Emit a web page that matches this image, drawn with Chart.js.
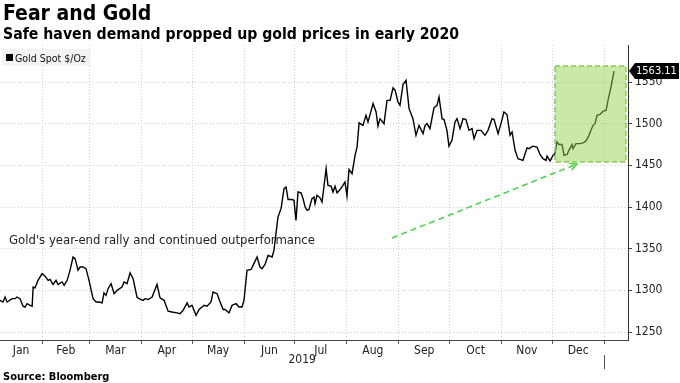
<!DOCTYPE html>
<html><head><meta charset="utf-8">
<script src="https://cdn.jsdelivr.net/npm/chart.js@4"></script>
<style>
html,body{margin:0;padding:0;background:#fff;}
#wrap{position:relative;width:680px;height:383px;overflow:hidden;font-family:"DejaVu Sans Condensed","DejaVu Sans",sans-serif;}
#c{position:absolute;left:0;top:0;}
.t{position:absolute;white-space:nowrap;color:#000;line-height:1;}
#legend{position:absolute;left:2px;top:49px;width:89px;height:17px;background:#f3f3f3;font-size:10.5px;color:#111;}
#legend span.sw{position:absolute;left:4px;top:5px;width:7px;height:7px;background:#000;}
#legend span.lb{position:absolute;left:13px;top:3px;}
</style></head><body>
<div id="wrap">
<canvas id="c" width="680" height="383"></canvas>
<div class="t" style="left:3px;top:3px;font-size:21px;font-weight:bold;">Fear and Gold</div>
<div class="t" style="left:3px;top:26px;font-size:15.7px;font-weight:bold;">Safe haven demand propped up gold prices in early 2020</div>
<div id="legend"><span class="sw"></span><span class="lb">Gold Spot $/Oz</span></div>
<div class="t" style="left:9px;top:233px;font-size:13px;color:#222;">Gold's year-end rally and continued outperformance</div>
<div class="t" style="left:3px;top:371px;font-size:11px;font-weight:bold;">Source: Bloomberg</div>
</div>
<script>
// ---- data (x = day of 2019, 0 = Jan 1) ----
const days = [5.9,7.7,8.9,10.1,13.1,14.9,16.0,17.8,19.6,20.8,
22.0,23.8,25.0,25.6,26.7,28.5,30.9,32.7,34.5,35.7,
37.4,39.2,40.4,42.8,44.0,45.8,47.5,49.3,50.5,52.3,
53.5,55.3,57.0,58.8,61.2,63.0,64.8,66.6,67.7,68.9,
70.1,71.9,73.7,75.5,78.4,79.6,81.4,83.2,85.0,87.3,
88.5,90.9,92.1,93.9,96.3,99.2,101.0,103.4,105.8,108.1,
111.1,112.9,114.7,117.1,118.2,120.0,122.4,124.2,127.2,128.9,
131.3,132.5,134.9,136.7,138.5,139.6,142.0,143.8,146.2,148.0,
149.7,150.9,152.7,155.1,156.3,158.7,160.4,161.6,163.4,165.2,
167.6,168.7,171.1,172.9,174.7,175.9,177.1,179.4,180.6,181.8,
183.0,184.8,186.0,187.2,188.4,189.5,191.3,192.5,193.1,194.3,
196.1,197.3,199.7,200.8,202.6,203.8,205.0,206.2,208.0,209.7,
210.9,212.1,213.3,215.1,216.9,218.1,219.3,221.6,223.4,224.6,
227.6,229.4,230.5,231.7,234.1,235.9,237.7,239.5,240.7,242.4,
243.6,245.4,247.2,249.0,251.3,253.1,254.9,257.3,258.5,259.7,
261.4,263.8,265.6,266.8,268.6,269.8,271.5,272.7,274.5,276.3,
277.5,279.3,281.1,282.8,284.6,286.4,287.6,289.4,291.8,294.1,
295.9,298.3,299.5,301.9,303.6,305.4,307.2,309.0,310.2,312.0,
313.7,316.7,319.1,320.3,322.6,325.0,326.8,328.6,330.4,331.0,
332.8,334.5,335.7,336.9,338.1,339.9,341.1,342.9,344.0,345.8,
346.4,348.2,350.6,352.4,354.1,355.9,358.3,359.5,360.7,362.5,
364.3,366.1,367.2,369.0,370.8];
const prices = [1288,1286,1292,1286,1290,1290,1292,1290,1281,1280,
1284,1282,1281,1304,1303,1312,1320,1317,1312,1313,
1307,1312,1307,1310,1306,1312,1324,1340,1338,1324,
1328,1328,1326,1312,1290,1286,1286,1285,1297,1294,
1302,1308,1296,1300,1304,1310,1308,1321,1314,1292,
1290,1288,1290,1289,1292,1307,1291,1288,1275,1274,
1273,1272,1276,1285,1280,1282,1270,1277,1282,1281,
1286,1298,1296,1286,1277,1277,1273,1282,1284,1280,
1280,1288,1324,1325,1330,1340,1328,1326,1331,1342,
1340,1348,1388,1398,1422,1424,1409,1409,1408,1384,
1418,1417,1410,1400,1396,1397,1410,1412,1404,1414,
1411,1406,1446,1426,1425,1418,1425,1417,1421,1426,
1430,1413,1445,1440,1462,1472,1501,1498,1510,1502,
1524,1514,1497,1506,1500,1528,1528,1543,1540,1526,
1522,1547,1552,1518,1506,1486,1498,1488,1498,1500,
1494,1519,1522,1532,1506,1505,1492,1473,1480,1502,
1506,1494,1506,1505,1492,1494,1482,1492,1492,1486,
1492,1506,1505,1488,1500,1514,1511,1486,1490,1468,
1458,1456,1471,1470,1473,1472,1463,1458,1456,1461,
1455,1462,1464,1478,1475,1475,1462,1463,1468,1475,
1470,1476,1476,1477,1479,1486,1498,1500,1510,1511,
1515,1516,1528,1544,1563.11];
const monthLabels = ['Jan','Feb','Mar','Apr','May','Jun','Jul','Aug','Sep','Oct','Nov','Dec'];
const monthStarts = [0,31,59,90,120,151,181,212,243,273,304,334,365];
const yearLabel = '2019';
const yTicks = [1250,1300,1350,1400,1450,1500,1550];
const X_MIN = 5.9, X_MAX = 379.1;
const Y_MIN = 1240.4, Y_MAX = 1594.4;
// highlight box and arrow (in data units)
const boxX = [335.7, 377.9], boxY = [1454, 1569.2];
const arrowFrom = [238.9, 1362.8], arrowTo = [348.8, 1451.6];

const FONT = '"DejaVu Sans Condensed","DejaVu Sans",sans-serif';

// x ticks: month boundaries (grid/tick marks) + month label positions
const xTickList = [];
for (let i = 1; i < monthStarts.length; i++) xTickList.push({value: monthStarts[i], kind: 'b'});
for (let i = 0; i < 12; i++) {
  const a = Math.max(monthStarts[i], X_MIN), b = Math.min(monthStarts[i+1], X_MAX);
  xTickList.push({value: (a + b) / 2, kind: 'm', label: monthLabels[i]});
}
xTickList.sort((p, q) => p.value - q.value);

const overlay = {
  id: 'overlay',
  afterDatasetsDraw(chart) {
    const {ctx, scales: {x, y}} = chart;
    ctx.save();
    const l = x.getPixelForValue(boxX[0]), r = x.getPixelForValue(boxX[1]);
    const t = y.getPixelForValue(boxY[1]), b = y.getPixelForValue(boxY[0]);
    ctx.fillStyle = 'rgba(150,210,80,0.5)';
    ctx.fillRect(l, t, r - l, b - t);
    ctx.setLineDash([5, 3]);
    ctx.strokeStyle = '#8cc850';
    ctx.lineWidth = 1.5;
    ctx.strokeRect(l, t, r - l, b - t);
    // arrow
    const x1 = x.getPixelForValue(arrowFrom[0]), y1 = y.getPixelForValue(arrowFrom[1]);
    const x2 = x.getPixelForValue(arrowTo[0]), y2 = y.getPixelForValue(arrowTo[1]);
    ctx.strokeStyle = '#4fd24f';
    ctx.lineWidth = 1.6;
    ctx.setLineDash([6, 4]);
    ctx.beginPath(); ctx.moveTo(x1, y1); ctx.lineTo(x2, y2); ctx.stroke();
    ctx.setLineDash([]);
    const ang = Math.atan2(y2 - y1, x2 - x1);
    const hl = 8;
    ctx.beginPath();
    ctx.moveTo(x2 - hl * Math.cos(ang - 0.45), y2 - hl * Math.sin(ang - 0.45));
    ctx.lineTo(x2, y2);
    ctx.lineTo(x2 - hl * Math.cos(ang + 0.45), y2 - hl * Math.sin(ang + 0.45));
    ctx.stroke();
    ctx.restore();
  },
  afterDraw(chart) {
    const {ctx, scales: {x, y}, chartArea} = chart;
    ctx.save();
    // year label
    ctx.fillStyle = '#222';
    ctx.font = '12px ' + FONT;
    ctx.textAlign = 'center'; ctx.textBaseline = 'middle';
    const ya = Math.max(0, X_MIN), yb = Math.min(365, X_MAX);
    ctx.fillText(yearLabel, x.getPixelForValue((ya + yb) / 2), chartArea.bottom + 20);
    // year separator
    const sx = Math.round(x.getPixelForValue(365)) + 0.5;
    ctx.strokeStyle = '#555'; ctx.lineWidth = 1;
    ctx.beginPath(); ctx.moveTo(sx, chartArea.bottom + 15); ctx.lineTo(sx, chartArea.bottom + 29); ctx.stroke();
    // last value tag
    const last = prices[prices.length - 1];
    const ly = y.getPixelForValue(last);
    const ax = chartArea.right + 1;
    ctx.fillStyle = '#000';
    ctx.beginPath();
    ctx.moveTo(ax, ly);
    ctx.lineTo(ax + 6, ly - 8);
    ctx.lineTo(679, ly - 8);
    ctx.lineTo(679, ly + 8);
    ctx.lineTo(ax + 6, ly + 8);
    ctx.closePath(); ctx.fill();
    ctx.fillStyle = '#fff';
    ctx.textAlign = 'left';
    ctx.font = '11px ' + FONT;
    ctx.fillText(last.toFixed(2), ax + 7, ly + 0.5);
    ctx.restore();
  }
};

new Chart(document.getElementById('c'), {
  type: 'line',
  data: {datasets: [{
    data: days.map((d, i) => ({x: d, y: prices[i]})),
    borderColor: '#000', borderWidth: 1.4, pointRadius: 0, tension: 0, fill: false
  }]},
  options: {
    responsive: false, animation: false, devicePixelRatio: 1,
    layout: {padding: {left: 0, right: 0, top: 45, bottom: 0}},
    plugins: {legend: {display: false}, tooltip: {enabled: false}},
    scales: {
      x: {
        type: 'linear', min: X_MIN, max: X_MAX,
        afterBuildTicks: s => { s.ticks = xTickList.map(t => ({value: t.value})); },
        afterFit: s => { s.height = 43; s.paddingLeft = 0; s.paddingRight = 0; },
        ticks: {
          autoSkip: false, maxRotation: 0, padding: 0, color: '#222',
          font: {size: 12, family: FONT},
          callback: (v) => { const t = xTickList.find(k => Math.abs(k.value - v) < 1e-6); return t && t.kind === 'm' ? t.label : ''; }
        },
        grid: {
          color: c => { const t = xTickList[c.index]; return t && t.kind === 'b' ? '#d0d0d0' : 'rgba(0,0,0,0)'; },
          tickColor: c => { const t = xTickList[c.index]; return t && t.kind === 'b' ? '#555' : 'rgba(0,0,0,0)'; },
          tickLength: 4, lineWidth: 1
        },
        border: {color: '#444', width: 1, dash: [1, 2]}
      },
      y: {
        position: 'right', min: Y_MIN, max: Y_MAX,
        afterBuildTicks: s => { s.ticks = yTicks.map(v => ({value: v})); },
        afterFit: s => { s.width = 52; s.paddingTop = 0; s.paddingBottom = 0; },
        ticks: {padding: 3, color: '#222', font: {size: 12, family: FONT}, callback: v => String(v)},
        grid: {color: '#d0d0d0', tickColor: '#444', tickLength: 4, lineWidth: 1},
        border: {color: '#333', width: 1, dash: [1, 2]}
      }
    }
  },
  plugins: [overlay]
});
</script>
</body></html>
